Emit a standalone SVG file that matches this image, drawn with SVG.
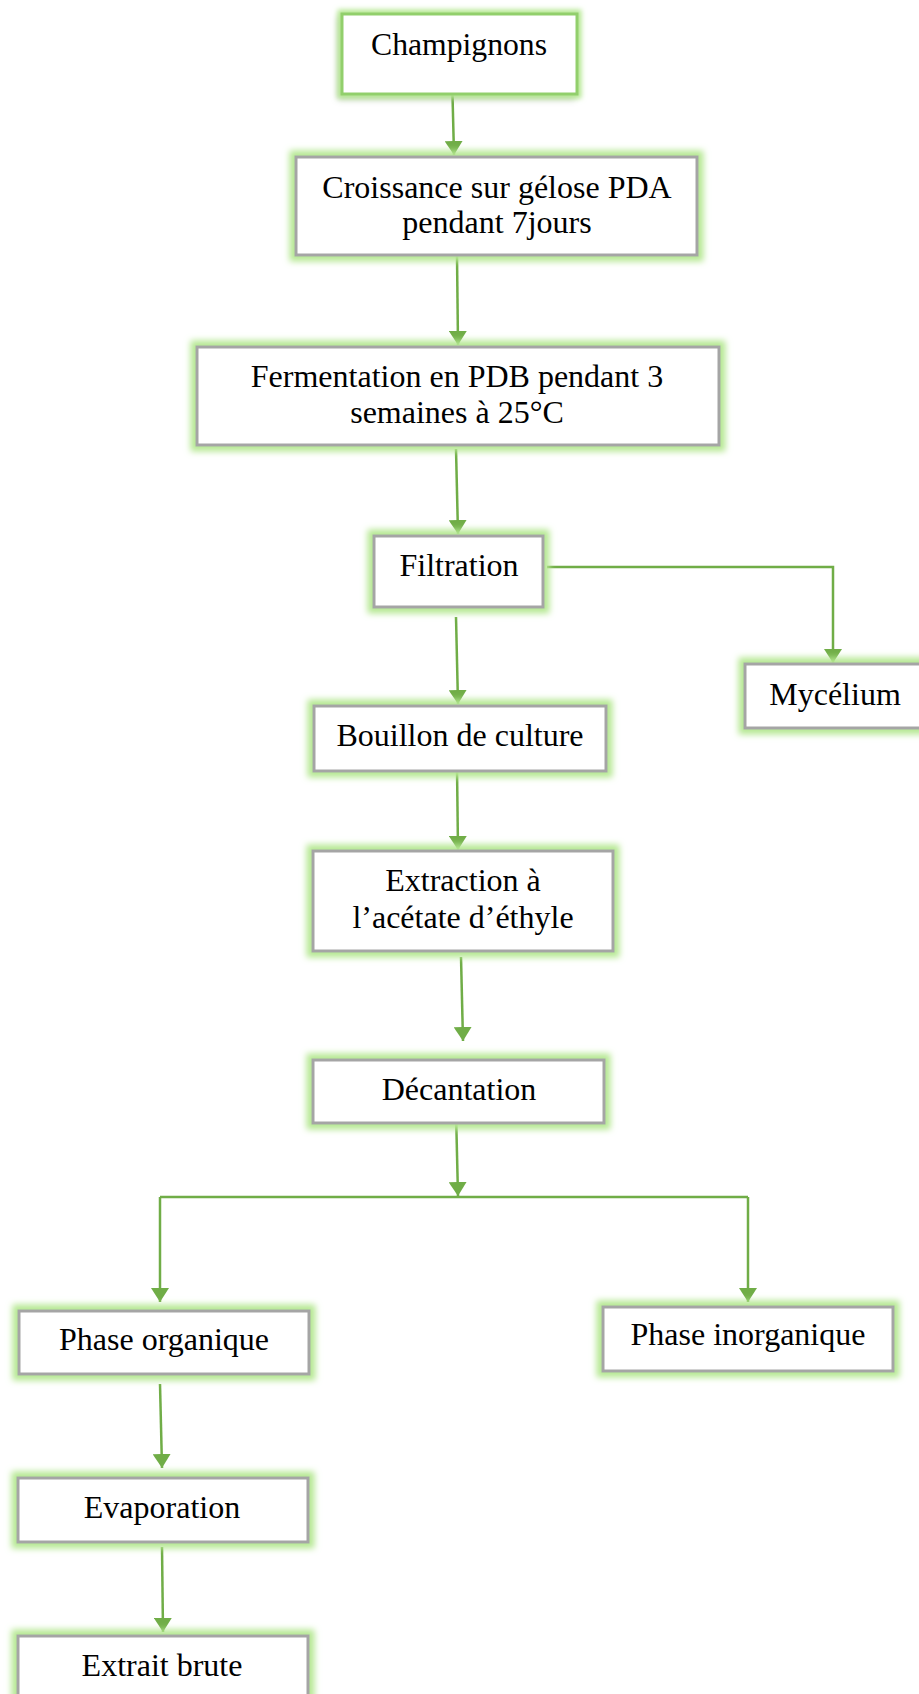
<svg xmlns="http://www.w3.org/2000/svg" width="919" height="1694" viewBox="0 0 919 1694">
<style>
.box{fill:#ffffff;stroke:#a5a5a5;stroke-width:3;filter:url(#glow)}
.box0{fill:#ffffff;stroke:#92cf6c;stroke-width:3;filter:url(#shadow)}
.t{font-family:"Liberation Serif","Times New Roman",serif;font-size:32px;fill:#000000;text-anchor:middle}
.c{fill:none;stroke:#70ad47;stroke-width:2.5}
</style>
<defs>
<filter id="glow" x="-20%" y="-30%" width="140%" height="160%">
<feMorphology in="SourceAlpha" operator="dilate" radius="5" result="d"/>
<feGaussianBlur in="d" stdDeviation="3" result="b"/>
<feFlood flood-color="#b5e892"/>
<feComposite in2="b" operator="in" result="g"/>
<feMerge><feMergeNode in="g"/><feMergeNode in="SourceGraphic"/></feMerge>
</filter>
<filter id="shadow" x="-20%" y="-30%" width="140%" height="160%">
<feMorphology in="SourceAlpha" operator="dilate" radius="3" result="d"/>
<feGaussianBlur in="d" stdDeviation="2.5" result="b"/>
<feFlood flood-color="#b5e892"/>
<feComposite in2="b" operator="in" result="g"/>
<feGaussianBlur in="SourceAlpha" stdDeviation="3" result="s0"/>
<feOffset in="s0" dx="-3" dy="4" result="s1"/>
<feFlood flood-color="#000000" flood-opacity="0.35"/>
<feComposite in2="s1" operator="in" result="s"/>
<feMerge><feMergeNode in="s"/><feMergeNode in="g"/><feMergeNode in="SourceGraphic"/></feMerge>
</filter>
<marker id="arr" markerUnits="userSpaceOnUse" markerWidth="14" markerHeight="18" refX="14" refY="9" orient="auto" viewBox="0 0 14 18">
<path d="M0,0 L14,9 L0,18 Z" fill="#70ad47"/>
</marker>
</defs>

<g id="connectors">
<path class="c" d="M452,75 L454,155" marker-end="url(#arr)"/>
<path class="c" d="M457,256 L458,345" marker-end="url(#arr)"/>
<path class="c" d="M456,449 L458,534" marker-end="url(#arr)"/>
<path class="c" d="M547,567 H833 V663" marker-end="url(#arr)"/>
<path class="c" d="M456,617 L458,704" marker-end="url(#arr)"/>
<path class="c" d="M457,768 L458,850" marker-end="url(#arr)"/>
<path class="c" d="M461,957 L463,1041" marker-end="url(#arr)"/>
<path class="c" d="M456,1112 L458,1196" marker-end="url(#arr)"/>
<path class="c" d="M160,1197 H748"/>
<path class="c" d="M160,1197 V1302" marker-end="url(#arr)"/>
<path class="c" d="M748,1197 V1302" marker-end="url(#arr)"/>
<path class="c" d="M160,1384 L162,1468" marker-end="url(#arr)"/>
<path class="c" d="M162,1547 L163,1632" marker-end="url(#arr)"/>
</g>

<g id="champignons">
<rect class="box0" x="342" y="14" width="235" height="80"/>
<text class="t" x="459" y="55" textLength="176" lengthAdjust="spacingAndGlyphs">Champignons</text>
</g>
<g id="croissance">
<rect class="box" x="296" y="157" width="401" height="98"/>
<text class="t" x="497" y="198">Croissance sur gélose PDA</text>
<text class="t" x="497" y="233">pendant 7jours</text>
</g>
<g id="fermentation">
<rect class="box" x="197" y="347" width="522" height="98"/>
<text class="t" x="457" y="387">Fermentation en PDB pendant 3</text>
<text class="t" x="457" y="423">semaines à 25°C</text>
</g>
<g id="filtration">
<rect class="box" x="374" y="536" width="169" height="71"/>
<text class="t" x="459" y="576">Filtration</text>
</g>
<g id="mycelium">
<rect class="box" x="745" y="664" width="180" height="64"/>
<text class="t" x="835" y="705">Mycélium</text>
</g>
<g id="bouillon">
<rect class="box" x="314" y="706" width="292" height="65"/>
<text class="t" x="460" y="746">Bouillon de culture</text>
</g>
<g id="extraction">
<rect class="box" x="313" y="851" width="300" height="100"/>
<text class="t" x="463" y="891">Extraction à</text>
<text class="t" x="463" y="928">l’acétate d’éthyle</text>
</g>
<g id="decantation">
<rect class="box" x="313" y="1060" width="291" height="63"/>
<text class="t" x="459" y="1100">Décantation</text>
</g>
<g id="phase-organique">
<rect class="box" x="19" y="1311" width="290" height="63"/>
<text class="t" x="164" y="1350">Phase organique</text>
</g>
<g id="phase-inorganique">
<rect class="box" x="603" y="1307" width="290" height="64"/>
<text class="t" x="748" y="1345">Phase inorganique</text>
</g>
<g id="evaporation">
<rect class="box" x="18" y="1478" width="290" height="64"/>
<text class="t" x="162" y="1518">Evaporation</text>
</g>
<g id="extrait-brute">
<rect class="box" x="18" y="1636" width="290" height="70"/>
<text class="t" x="162" y="1676">Extrait brute</text>
</g>
</svg>
